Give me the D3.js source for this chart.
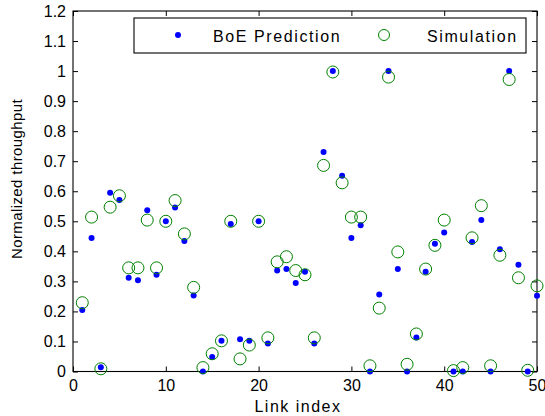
<!DOCTYPE html>
<html>
<head>
<meta charset="utf-8">
<script src="https://cdn.jsdelivr.net/npm/d3@7"></script>
<style>
  body { margin: 0; background: #fff; }
  svg { display: block; font-family: "Liberation Sans", Arial, sans-serif; }
  .tick text { font-size: 16px; fill: #000; }
  .axis-label { font-size: 16px; fill: #000; letter-spacing: 1.5px; }
  .legend-text { font-size: 16px; fill: #000; letter-spacing: 1.6px; }
</style>
</head>
<body>
<div id="chart"></div>
<script>
// link index 1..50
const linkIndex = [1,2,3,4,5,6,7,8,9,10,11,12,13,14,15,16,17,18,19,20,
  21,22,23,24,25,26,27,28,29,30,31,32,33,34,35,36,37,38,39,40,
  41,42,43,44,45,46,47,48,49,50];

const boePrediction = [0.205,0.444,0.014,0.595,0.571,0.312,0.304,0.537,0.322,0.5,
  0.546,0.434,0.253,0,0.048,0.102,0.491,0.107,0.102,0.5,
  0.093,0.336,0.341,0.295,0.332,0.093,0.731,1.0,0.652,0.444,
  0.487,0,0.256,1.0,0.341,0,0.113,0.332,0.425,0.463,
  0,0,0.431,0.504,0,0.407,1.0,0.355,0,0.252];

const simulation = [0.229,0.514,0.009,0.547,0.585,0.345,0.345,0.504,0.345,0.5,
  0.569,0.458,0.28,0.013,0.059,0.102,0.5,0.042,0.088,0.5,
  0.112,0.365,0.382,0.336,0.322,0.112,0.686,0.997,0.628,0.514,
  0.514,0.019,0.211,0.98,0.398,0.024,0.125,0.341,0.42,0.504,
  0.003,0.013,0.445,0.552,0.019,0.387,0.972,0.312,0.004,0.285];

const xTicks = [0,10,20,30,40,50];
const yTicks = [0,0.1,0.2,0.3,0.4,0.5,0.6,0.7,0.8,0.9,1,1.1,1.2];
const legendLabels = ['BoE Prediction', 'Simulation'];

const width = 545;
const height = 416;
const margin = {top: 11, right: 8, bottom: 44.5, left: 73};

const xScale = d3.scaleLinear()
  .domain([0, 50])
  .range([margin.left, width - margin.right]);

const yScale = d3.scaleLinear()
  .domain([0, 1.2])
  .range([height - margin.bottom, margin.top]);

const svg = d3.select('#chart')
  .append('svg')
  .attr('width', width)
  .attr('height', height);

const fmt = d => d3.format('~g')(d);

// axes, ticks pointing inwards like matlab
svg.append('g')
  .attr('transform', `translate(0,${height - margin.bottom})`)
  .call(d3.axisBottom(xScale).tickValues(xTicks).tickFormat(fmt).tickSizeInner(-5).tickSizeOuter(0).tickPadding(8))
  .call(g => g.select('.domain').remove());

svg.append('g')
  .attr('transform', `translate(0,${margin.top})`)
  .call(d3.axisTop(xScale).tickValues(xTicks).tickFormat('').tickSizeInner(-5).tickSizeOuter(0))
  .call(g => g.select('.domain').remove());

svg.append('g')
  .attr('transform', `translate(${margin.left},0)`)
  .call(d3.axisLeft(yScale).tickValues(yTicks).tickFormat(fmt).tickSizeInner(-5).tickSizeOuter(0).tickPadding(7))
  .call(g => g.select('.domain').remove());

svg.append('g')
  .attr('transform', `translate(${width - margin.right},0)`)
  .call(d3.axisRight(yScale).tickValues(yTicks).tickFormat('').tickSizeInner(-5).tickSizeOuter(0))
  .call(g => g.select('.domain').remove());

svg.selectAll('.tick line').attr('stroke', '#000');

// box
svg.append('rect')
  .attr('x', margin.left)
  .attr('y', margin.top)
  .attr('width', width - margin.left - margin.right)
  .attr('height', height - margin.top - margin.bottom)
  .attr('fill', 'none')
  .attr('stroke', '#000')
  .attr('stroke-width', 1.1);

// axis labels
svg.append('text')
  .attr('class', 'axis-label')
  .attr('text-anchor', 'middle')
  .attr('x', 298)
  .attr('y', 412)
  .text('Link index');

svg.append('text')
  .attr('class', 'axis-label')
  .attr('text-anchor', 'middle')
  .attr('transform', 'rotate(-90)')
  .attr('x', -179)
  .attr('y', 22)
  .style('font-size', '15px')
  .style('letter-spacing', '0.4px')
  .text('Normalized throughput');

// points
svg.append('g')
  .selectAll('circle')
  .data(linkIndex)
  .join('circle')
  .attr('cx', (d) => xScale(d))
  .attr('cy', (d, i) => yScale(boePrediction[i]))
  .attr('r', 3)
  .attr('fill', '#0000ff');

svg.append('g')
  .selectAll('circle')
  .data(linkIndex)
  .join('circle')
  .attr('cx', (d) => xScale(d))
  .attr('cy', (d, i) => yScale(simulation[i]))
  .attr('r', 6)
  .attr('fill', 'none')
  .attr('stroke', '#008000')
  .attr('stroke-width', 1);

// legend
const legend = svg.append('g');
legend.append('rect')
  .attr('x', 134).attr('y', 18)
  .attr('width', 392).attr('height', 35)
  .attr('fill', '#fff')
  .attr('stroke', '#000')
  .attr('stroke-width', 1.1);
legend.append('circle')
  .attr('cx', 178).attr('cy', 35).attr('r', 3)
  .attr('fill', '#0000ff');
legend.append('text')
  .attr('class', 'legend-text')
  .attr('x', 213).attr('y', 42)
  .text(legendLabels[0]);
legend.append('circle')
  .attr('cx', 384).attr('cy', 35).attr('r', 5.5)
  .attr('fill', 'none')
  .attr('stroke', '#008000');
legend.append('text')
  .attr('class', 'legend-text')
  .attr('x', 427).attr('y', 42)
  .text(legendLabels[1]);
</script>
</body>
</html>
